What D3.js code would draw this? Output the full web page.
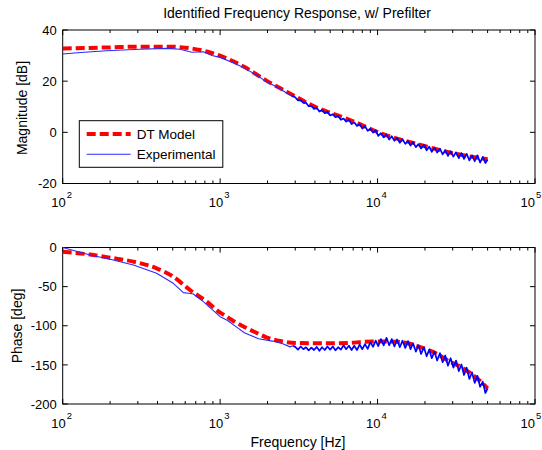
<!DOCTYPE html>
<html>
<head>
<meta charset="utf-8">
<script src="https://cdn.jsdelivr.net/npm/d3@7"></script>
<style>
  body { margin: 0; background: #fff; }
  text { font-family: "Liberation Sans", Arial, sans-serif; fill: #000; }
</style>
</head>
<body>
<script>
// axis ticks
const freqTicks = [100, 1000, 10000, 100000];
const freqExp = ['2', '3', '4', '5'];
const magTicks = [-20, 0, 20, 40];
const phaseTicks = [-200, -150, -100, -50, 0];

// DT model
const modelMagFreq = [100, 150, 200, 309, 459, 600, 745, 862, 1052, 1430, 1945, 2643, 3981, 6637, 11080, 18480, 30800, 50000];
const modelMag = [32.8, 33.0, 33.2, 33.5, 33.5, 33.1, 32.2, 31.2, 29.4, 25.5, 20.4, 15.9, 10.1, 4.9, -0.9, -4.8, -8.3, -10.5];
const modelPhaseFreq = [100, 149, 200, 281, 395, 504, 643, 823, 1000, 1108, 1250, 1424, 1700, 1945, 2400, 3083, 4500, 6600, 8300, 11400, 14300, 18500, 23870, 28800, 33300, 39800, 45000, 50000];
const modelPhase = [-5.4, -9, -13, -18.1, -26.6, -37.3, -54.3, -69.2, -83.3, -88.6, -95.5, -101.5, -109, -114.4, -119.5, -122.1, -122.5, -122, -120.5, -120, -121, -127, -136, -146, -152, -162, -171, -180];

// experimental, low frequency part
const lowMagFreq = [100, 130, 190, 309, 459, 556, 660, 782, 887, 1000, 1200, 1430, 1700, 1945, 2300, 2643, 2850];
const lowMag = [30.6, 31.2, 31.9, 32.5, 32.8, 32.5, 31.3, 31.5, 30.0, 29.3, 27.3, 25.1, 22.4, 20.0, 17.7, 15.4, 14.3];
const lowPhaseFreq = [100, 149, 200, 281, 395, 504, 584, 630, 675, 782, 1000, 1108, 1300, 1424, 1754, 2154, 2500, 2780, 2900];
const lowPhase = [0, -9.6, -15, -22.4, -33, -45.8, -57.7, -58.5, -59.5, -69.2, -88.4, -93, -103, -109, -116.6, -119.6, -123, -127, -125.5];

// experimental, noisy high frequency part
const hfFreq = [3000, 3120, 3250, 3380, 3510, 3650, 3800, 3950, 4110, 4270, 4440, 4620, 4800, 5000, 5200, 5400, 5620, 5850, 6080, 6320,
  6580, 6840, 7110, 7400, 7690, 8000, 8320, 8650, 9000, 9360, 9730, 10100, 10500, 10950, 11400, 11850, 12300, 12800, 13300, 13850,
  14400, 15000, 15600, 16200, 16800, 17500, 18200, 18900, 19700, 20500, 21300, 22100, 23000, 23900, 24900, 25900, 26900, 28000, 29100, 30300,
  31500, 32800, 34100, 35400, 36800, 38300, 39800, 41400, 43100, 44800, 46600, 48400, 50000];
const hfMag = [13.7, 12.5, 12.6, 11.5, 11.6, 10.2, 10.3, 9.1, 9.6, 8.1, 8.7, 7.5, 8.0, 6.6, 7.1, 5.9, 6.4, 4.9, 5.4, 4.2,
  4.9, 3.2, 3.9, 2.5, 3.2, 1.5, 2.4, 0.6, 1.4, -0.1, 0.8, -1.4, -0.3, -2.0, -0.9, -2.8, -1.5, -3.3, -2.2, -4.1,
  -2.7, -4.5, -3.4, -5.2, -3.8, -5.8, -4.6, -6.3, -4.9, -7.0, -5.6, -7.6, -6.0, -7.9, -6.4, -8.6, -7.0, -9.2, -7.4, -9.5,
  -7.8, -10.1, -8.1, -10.4, -8.4, -11.0, -9.0, -11.3, -9.0, -11.8, -9.6, -12.0, -10.6];
const hfPhase = [-127, -130.5, -126.5, -130, -127.5, -131.5, -128, -131, -127, -132, -127.5, -131, -126.5, -130.5, -126.5, -131.5, -127.5, -130.5, -125, -130,
  -125.5, -131, -125.5, -131, -124, -130, -123.5, -129.5, -121, -127, -119, -126, -117, -125, -115.5, -125, -117, -126.5, -117.5, -127.5,
  -119, -128.5, -119.5, -130, -122.5, -133, -125, -136, -127.5, -139, -130.5, -141.5, -133, -144.5, -135, -146.5, -138, -151, -141.5, -153.5,
  -144.5, -158, -149.5, -163, -153.5, -168, -159.5, -173, -164, -178, -171.5, -186, -180];

const svg = d3.select('body').append('svg')
  .attr('width', 542)
  .attr('height', 450);

const x = d3.scaleLog().domain([100, 100000]).range([62.7, 535]);
const yMag = d3.scaleLinear().domain([-20, 40]).range([183.5, 30]);
const yPhase = d3.scaleLinear().domain([-200, 0]).range([404, 247.5]);

const minorTicks = x.ticks().filter(d => !freqTicks.includes(d));

function drawAxes(y, yTicks) {
  const [y0, y1] = y.range();   // bottom, top
  const [x0, x1] = x.range();
  const g = svg.append('g');

  g.append('rect')
    .attr('x', x0).attr('y', y1)
    .attr('width', x1 - x0).attr('height', y0 - y1)
    .attr('fill', 'none').attr('stroke', '#000').attr('stroke-width', 1);

  // log minor ticks, bottom and top, pointing inside
  [[y0, -3], [y1, 3]].forEach(([yy, len]) => {
    g.selectAll(null).data(minorTicks).enter().append('line')
      .attr('x1', d => x(d)).attr('x2', d => x(d))
      .attr('y1', yy).attr('y2', yy + len)
      .attr('stroke', '#000');
    g.selectAll(null).data(freqTicks).enter().append('line')
      .attr('x1', d => x(d)).attr('x2', d => x(d))
      .attr('y1', yy).attr('y2', yy + len * 1.7)
      .attr('stroke', '#000');
  });

  [[x0, 5], [x1, -5]].forEach(([xx, len]) => {
    g.selectAll(null).data(yTicks).enter().append('line')
      .attr('x1', xx).attr('x2', xx + len)
      .attr('y1', d => y(d)).attr('y2', d => y(d))
      .attr('stroke', '#000');
  });

  g.selectAll(null).data(yTicks).enter().append('text')
    .attr('x', x0 - 6)
    .attr('y', d => y(d))
    .attr('dy', '0.36em')
    .attr('text-anchor', 'end')
    .attr('font-size', 13)
    .text(d => d);

  // last label sits at the window edge, pull it in a little
  const shift = (i) => (i === freqTicks.length - 1 ? -3 : 0);

  g.selectAll(null).data(freqTicks).enter().append('text')
    .attr('x', (d, i) => x(d) + 3 + shift(i))
    .attr('y', y0 + 23.5)
    .attr('text-anchor', 'end')
    .attr('font-size', 13)
    .text('10');

  g.selectAll(null).data(freqTicks).enter().append('text')
    .attr('x', (d, i) => x(d) + 4 + shift(i))
    .attr('y', y0 + 14.5)
    .attr('font-size', 9.5)
    .text((d, i) => freqExp[i]);
}

const line = (y, curve) => d3.line()
  .x(d => x(d[0]))
  .y(d => y(d[1]))
  .curve(curve);

function drawSeries(y, model, expLow, expHf) {
  svg.append('path')
    .attr('d', line(y, d3.curveMonotoneX)(model))
    .attr('fill', 'none')
    .attr('stroke', '#ff0000')
    .attr('stroke-width', 4)
    .attr('stroke-dasharray', '9,4');
  // smooth part thin, noisy part drawn a bit heavier like the scan
  svg.append('path')
    .attr('d', line(y, d3.curveLinear)(expLow))
    .attr('fill', 'none')
    .attr('stroke', '#2a2aff')
    .attr('stroke-width', 1.1)
    .attr('stroke-linejoin', 'round');
  svg.append('path')
    .attr('d', line(y, d3.curveLinear)(expHf))
    .attr('fill', 'none')
    .attr('stroke', '#0000ff')
    .attr('stroke-width', 1.7)
    .attr('stroke-linejoin', 'round');
}

drawAxes(yMag, magTicks);
drawAxes(yPhase, phaseTicks);

const lastLow = (f, v) => [[f[f.length - 1], v[v.length - 1]]];

drawSeries(yMag,
  d3.zip(modelMagFreq, modelMag),
  d3.zip(lowMagFreq, lowMag),
  lastLow(lowMagFreq, lowMag).concat(d3.zip(hfFreq, hfMag)));
drawSeries(yPhase,
  d3.zip(modelPhaseFreq, modelPhase),
  d3.zip(lowPhaseFreq, lowPhase),
  lastLow(lowPhaseFreq, lowPhase).concat(d3.zip(hfFreq, hfPhase)));

// title and labels
svg.append('text')
  .attr('x', 297).attr('y', 17.5)
  .attr('text-anchor', 'middle')
  .attr('font-size', 14)
  .text('Identified Frequency Response, w/ Prefilter');

svg.append('text')
  .attr('transform', 'translate(27,108) rotate(-90)')
  .attr('text-anchor', 'middle')
  .attr('font-size', 14)
  .text('Magnitude [dB]');

svg.append('text')
  .attr('transform', 'translate(22,326) rotate(-90)')
  .attr('text-anchor', 'middle')
  .attr('font-size', 14)
  .text('Phase [deg]');

svg.append('text')
  .attr('x', 298).attr('y', 446.5)
  .attr('text-anchor', 'middle')
  .attr('font-size', 14)
  .text('Frequency [Hz]');

// legend
const legend = svg.append('g');
legend.append('rect')
  .attr('x', 79.3).attr('y', 120.7)
  .attr('width', 143.5).attr('height', 46.6)
  .attr('fill', '#fff').attr('stroke', '#000');

const legendItems = [
  { name: 'DT Model', color: '#ff0000', width: 4, dash: '9,4' },
  { name: 'Experimental', color: '#2a2aff', width: 1.1, dash: null },
];

legendItems.forEach((d, i) => {
  const yy = 134 + i * 20.3;
  legend.append('line')
    .attr('x1', 86.7).attr('x2', 130.7)
    .attr('y1', yy).attr('y2', yy)
    .attr('stroke', d.color)
    .attr('stroke-width', d.width)
    .attr('stroke-dasharray', d.dash);
  legend.append('text')
    .attr('x', 136.7).attr('y', yy)
    .attr('dy', '0.36em')
    .attr('font-size', 13.5)
    .text(d.name);
});
</script>
</body>
</html>
